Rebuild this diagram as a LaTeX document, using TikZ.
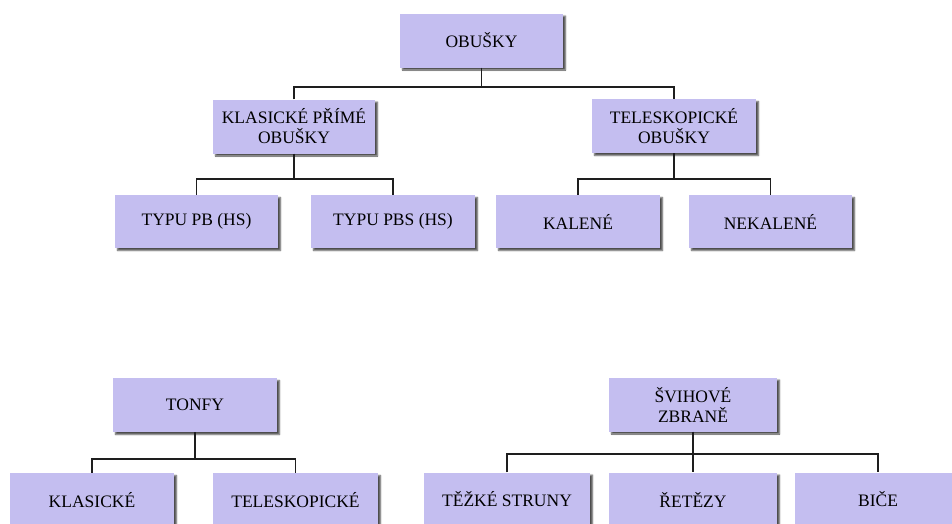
\documentclass[tikz,border=0pt]{standalone}
\usepackage{fontspec}
\setmainfont{Liberation Serif}
\usetikzlibrary{shadows.blur}
\definecolor{boxfill}{RGB}{196,190,240}
\definecolor{linecol}{RGB}{30,30,30}
\tikzset{
  cbox/.style={fill=boxfill, draw=none, align=center, inner sep=0pt,
    minimum width=#1, minimum height=54pt,
    font=\fontsize{17.5pt}{20pt}\selectfont, text=black,
    blur shadow={shadow xshift=2.5pt, shadow yshift=-2.5pt, shadow blur steps=6, shadow blur radius=1.5pt, shadow opacity=70}},
  cbox/.default=164pt,
  conn/.style={draw=linecol, line width=1.2pt}
}
\begin{document}
\begin{tikzpicture}[x=1pt,y=-1pt]
\useasboundingbox (0,0) rectangle (952,523);
\clip (0,0) rectangle (952,523);
% top tree
\node[cbox=163pt] (obu) at (481.5,40.5) {OBUŠKY};
\node[cbox=162pt] (kpo) at (294,126.5) {KLASICKÉ PŘÍMÉ\\OBUŠKY};
\node[cbox=164pt] (tel) at (674,126) {TELESKOPICKÉ\\OBUŠKY};
\node[cbox=163pt, minimum height=53pt] (pb) at (196.5,221.5) {TYPU PB (HS)};
\node[cbox=164pt, minimum height=53pt] (pbs) at (393,221.5) {TYPU PBS (HS)};
\node[cbox=164pt, minimum height=53pt] (kal) at (578,221.5) {KALENÉ};
\node[cbox=163pt, minimum height=53pt] (nek) at (770.5,221.5) {NEKALENÉ};
% bottom left tree
\node[cbox=164pt] (tonfy) at (195,405) {TONFY};
\node[cbox=164pt] (kla) at (92,500) {KLASICKÉ};
\node[cbox=165pt] (tele) at (295.5,500) {TELESKOPICKÉ};
% bottom right tree
\node[cbox=168pt] (svih) at (693,404.5) {ŠVIHOVÉ\\ZBRANĚ};
\node[cbox=166pt] (tez) at (507,499.5) {TĚŽKÉ STRUNY};
\node[cbox=168pt] (ret) at (693,499.5) {ŘETĚZY};
\node[cbox=166pt] (bic) at (878,499.5) {BIČE};
% connectors
\coordinate (j1) at (0,87);
\coordinate (j2) at (0,179);
\coordinate (j3) at (0,459);
\coordinate (j4) at (0,454);
\draw[conn] (obu.south) -- (obu.south |- j1);
\draw[conn] (kpo.north) -- (kpo.north |- j1) -- (tel.north |- j1) -- (tel.north);
\draw[conn] (kpo.south) -- (kpo.south |- j2);
\draw[conn] (pb.north) -- (pb.north |- j2) -- (pbs.north |- j2) -- (pbs.north);
\draw[conn] (tel.south) -- (tel.south |- j2);
\draw[conn] (kal.north) -- (kal.north |- j2) -- (nek.north |- j2) -- (nek.north);
\draw[conn] (tonfy.south) -- (tonfy.south |- j3);
\draw[conn] (kla.north) -- (kla.north |- j3) -- (tele.north |- j3) -- (tele.north);
\draw[conn] (svih.south) -- (ret.north);
\draw[conn] (tez.north) -- (tez.north |- j4) -- (bic.north |- j4) -- (bic.north);
\end{tikzpicture}
\end{document}
